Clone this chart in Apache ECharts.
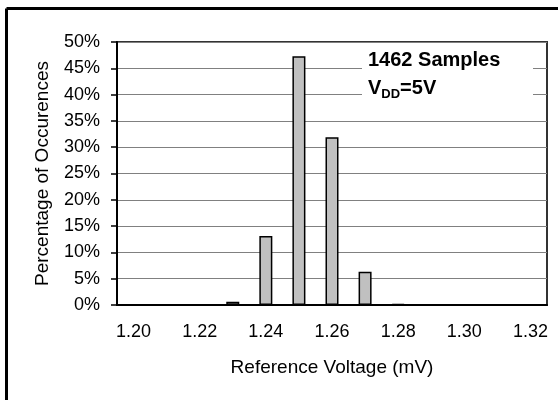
<!DOCTYPE html>
<html>
<head>
<meta charset="utf-8">
<script src="https://cdn.jsdelivr.net/npm/echarts@6/dist/echarts.min.js"></script>
<style>
html, body { margin: 0; padding: 0; background: #fff; }
#main { width: 558px; height: 400px; }
</style>
</head>
<body>
<div id="main"></div>
<script>
var dom = document.getElementById('main');
var myChart = echarts.init(dom);

// reference voltage bins (V) and share of samples (%)
var voltages = ['1.20', '1.21', '1.22', '1.23', '1.24', '1.25', '1.26',
                '1.27', '1.28', '1.29', '1.30', '1.31', '1.32'];
var percents = [0, 0, 0, 0.6, 13.1, 47.3, 31.9, 6.3, 0.2, 0, 0, 0, 0];

var font = 'Liberation Sans, Arial, sans-serif';

var option = {
    backgroundColor: '#fff',
    animation: false,
    textStyle: { fontFamily: font },
    grid: {
        left: 117,
        right: 11,
        top: 42,
        bottom: 95,
        show: true,
        borderColor: '#333',
        borderWidth: 2
    },
    xAxis: {
        type: 'category',
        data: voltages,
        name: 'Reference Voltage (mV)',
        nameLocation: 'middle',
        nameGap: 53,
        nameTextStyle: { fontSize: 19, color: '#000', fontFamily: font },
        axisLine: { lineStyle: { color: '#000', width: 2 } },
        axisTick: { interval: 0, length: 6, lineStyle: { color: '#000', width: 1.5 } },
        axisLabel: { interval: 1, margin: 18, fontSize: 18, color: '#000', fontFamily: font },
        splitLine: { show: false }
    },
    yAxis: {
        type: 'value',
        min: 0,
        max: 50,
        interval: 5,
        name: 'Percentage of Occurences',
        nameLocation: 'middle',
        nameGap: 65,
        nameTextStyle: { fontSize: 19, color: '#000', fontFamily: font },
        axisLine: { show: true, lineStyle: { color: '#000', width: 2 } },
        axisTick: { show: true, length: 6, lineStyle: { color: '#000', width: 1.5 } },
        axisLabel: { formatter: '{value}%', margin: 17, fontSize: 18, color: '#000', fontFamily: font },
        splitLine: { show: true, lineStyle: { color: '#808080', width: 1 } }
    },
    series: [{
        type: 'bar',
        data: percents,
        barWidth: 13,
        itemStyle: { color: '#c0c0c0', borderColor: '#000', borderWidth: 1.5 }
    }],
    graphic: [
        // outer frame (top and left edges visible)
        { type: 'line', shape: { x1: 6.5, y1: 8.5, x2: 560, y2: 8.5 }, style: { stroke: '#000', lineWidth: 3 } },
        { type: 'line', shape: { x1: 6.5, y1: 8.5, x2: 6.5, y2: 402 }, style: { stroke: '#000', lineWidth: 3 } },
        // annotation box
        { type: 'rect', shape: { x: 362, y: 48, width: 171, height: 60 }, style: { fill: '#fff' }, z: 10 },
        {
            type: 'text', left: 368, top: 50, z: 11,
            style: { text: '1462 Samples', font: 'bold 20px ' + font, fill: '#000' }
        },
        {
            type: 'text', left: 368, top: 78, z: 11,
            style: {
                text: '{v|V}{s|DD}{v|=5V}',
                fill: '#000',
                rich: {
                    v: { font: 'bold 20px ' + font, fill: '#000', verticalAlign: 'bottom' },
                    s: { font: 'bold 13px ' + font, fill: '#000', verticalAlign: 'bottom', padding: [0, 0, -3, 0] }
                }
            }
        }
    ]
};

myChart.setOption(option);
</script>
</body>
</html>
